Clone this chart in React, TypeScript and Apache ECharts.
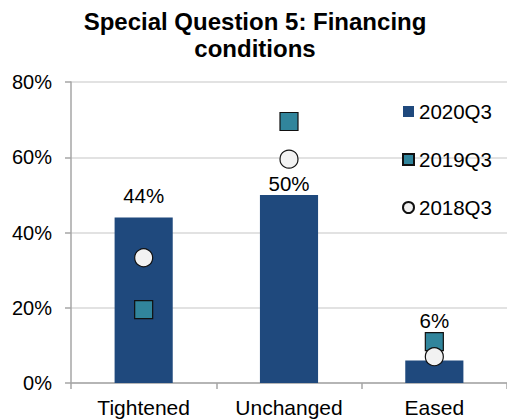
import React, { useEffect, useRef } from "react";
import * as echarts from "echarts";

const categories = ["Tightened", "Unchanged", "Eased"];
const series2020Q3 = [44, 50, 6];
const series2019Q3 = [19.5, 69.5, 11];
const series2018Q3 = [33.3, 59.5, 7];
const yTicks = [0, 20, 40, 60, 80];
const seriesNames = ["2020Q3", "2019Q3", "2018Q3"];
const barLabelDistance = [11, 1, 29];

const FONT = "'Liberation Sans', Arial, sans-serif";

export default function App() {
  const ref = useRef<HTMLDivElement>(null);
  useEffect(() => {
    if (!ref.current) return;
    const chart = echarts.init(ref.current, undefined, { renderer: "svg" });
    chart.setOption({
      animation: false,
      backgroundColor: "#ffffff",
      textStyle: { fontFamily: FONT },
      title: {
        text: "Special Question 5: Financing\nconditions",
        left: 250,
        textAlign: "center",
        top: 3,
        textStyle: {
          fontFamily: FONT,
          fontWeight: "bold",
          fontSize: 24,
          lineHeight: 27,
          color: "#000",
        },
      },
      legend: {
        orient: "vertical",
        left: 397,
        top: 96,
        itemGap: 27,
        itemWidth: 11,
        itemHeight: 11,
        textStyle: { fontFamily: FONT, fontSize: 20.5, color: "#000" },
        data: [
          { name: seriesNames[0], icon: "rect" },
          { name: seriesNames[1], icon: "rect" },
          { name: seriesNames[2], icon: "circle" },
        ],
      },
      grid: { left: 71, right: 0, top: 82, bottom: 37, containLabel: false },
      xAxis: {
        type: "category",
        data: categories,
        boundaryGap: true,
        axisLine: { lineStyle: { color: "#a6a6a6", width: 1.5 } },
        axisTick: { show: true, length: 6, alignWithLabel: false, lineStyle: { color: "#a6a6a6", width: 1.5 } },
        axisLabel: { fontFamily: FONT, fontSize: 21, color: "#000", margin: 14 },
      },
      yAxis: {
        type: "value",
        min: yTicks[0],
        max: yTicks[yTicks.length - 1],
        interval: 20,
        axisLine: { show: true, lineStyle: { color: "#a6a6a6", width: 1.5 } },
        axisTick: { show: true, length: 6, lineStyle: { color: "#a6a6a6", width: 1.5 } },
        axisLabel: { fontFamily: FONT, fontSize: 20, color: "#000", margin: 19, formatter: "{value}%" },
        splitLine: { lineStyle: { color: "#d9d9d9", width: 1.5 } },
      },
      series: [
        {
          name: seriesNames[0],
          type: "bar",
          barWidth: "40%",
          itemStyle: { color: "#1F497D" },
          label: {
            show: true,
            position: "top",
            formatter: "{c}%",
            fontFamily: FONT,
            fontSize: 20.5,
            color: "#000",
          },
          data: series2020Q3.map((v, i) => ({ value: v, label: { distance: barLabelDistance[i] } })),
          z: 2,
        },
        {
          name: seriesNames[1],
          type: "scatter",
          symbol: "rect",
          symbolSize: 18,
          itemStyle: { color: "#31859C", borderColor: "#111", borderWidth: 1.2, opacity: 1 },
          data: series2019Q3,
          z: 3,
        },
        {
          name: seriesNames[2],
          type: "scatter",
          symbol: "circle",
          symbolSize: 18,
          itemStyle: { color: "#F2F2F2", borderColor: "#111", borderWidth: 1.2, opacity: 1 },
          data: series2018Q3,
          z: 4,
        },
      ],
    });
    return () => chart.dispose();
  }, []);
  return <div ref={ref} style={{ width: 507, height: 420, position: "absolute", left: 0, top: 0 }} />;
}
